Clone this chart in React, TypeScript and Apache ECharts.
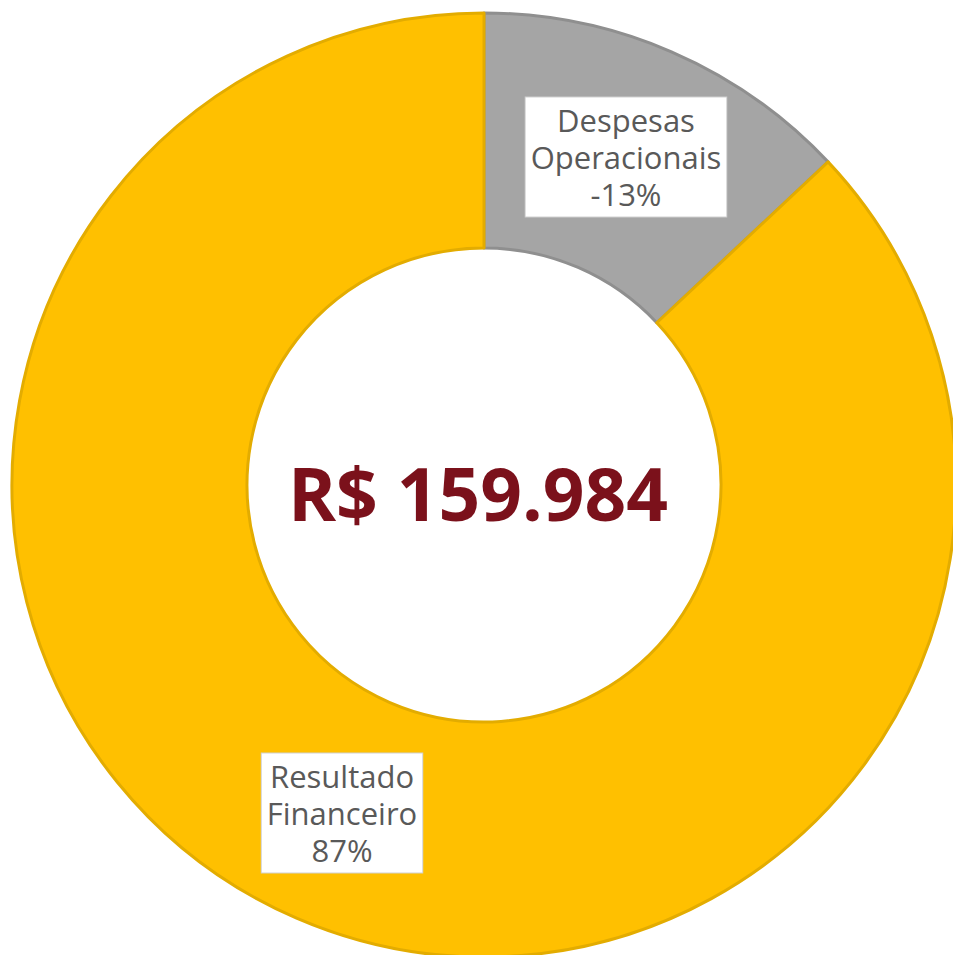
import React, { useEffect, useRef } from "react";
import * as echarts from "echarts";

const categories = ["Despesas Operacionais", "Resultado Financeiro"];
const labelLines = [["Despesas", "Operacionais"], ["Resultado", "Financeiro"]];
const percents = [-13, 87];
const colors = ["#A5A5A5", "#FFC000"];
const borderColors = ["#8F8F8F", "#E3AC00"];
const centerText = "R$ 159.984";

export default function App() {
  const ref = useRef<HTMLDivElement>(null);
  useEffect(() => {
    if (!ref.current) return;
    const chart = echarts.init(ref.current, undefined, { renderer: "svg" });
    chart.setOption({
      animation: false,
      series: [
        {
          type: "pie",
          center: [484, 485],
          radius: [237, 472],
          startAngle: 90,
          clockwise: true,
          avoidLabelOverlap: false,
          labelLine: { show: false },
          data: categories.map((name, i) => ({
            name,
            value: Math.abs(percents[i]),
            itemStyle: { color: colors[i], borderColor: borderColors[i], borderWidth: 3 },
            label: {
              formatter: [...labelLines[i], `${percents[i]}%`].join("\n"),
            },
          })),
          label: {
            show: true,
            position: "inside",
            color: "#595959",
            fontFamily: "Open Sans",
            fontSize: 31,
            lineHeight: 37,
            backgroundColor: "#FFFFFF",
            borderColor: "#D0D0D0",
            borderWidth: 1,
            padding: [4, 5, 4, 5],
            align: "center",
          },
          emphasis: { disabled: true },
        },
      ],
      graphic: [
        {
          type: "text",
          x: 478,
          y: 492,
          style: {
            text: centerText,
            textAlign: "center",
            textVerticalAlign: "middle",
            fill: "#7B111B",
            font: "bold 73px 'Open Sans'",
          },
        },
      ],
    });
    return () => chart.dispose();
  }, []);
  return (
    <div
      ref={ref}
      style={{ position: "absolute", left: 0, top: 0, width: 953, height: 955, background: "#fff" }}
    />
  );
}
